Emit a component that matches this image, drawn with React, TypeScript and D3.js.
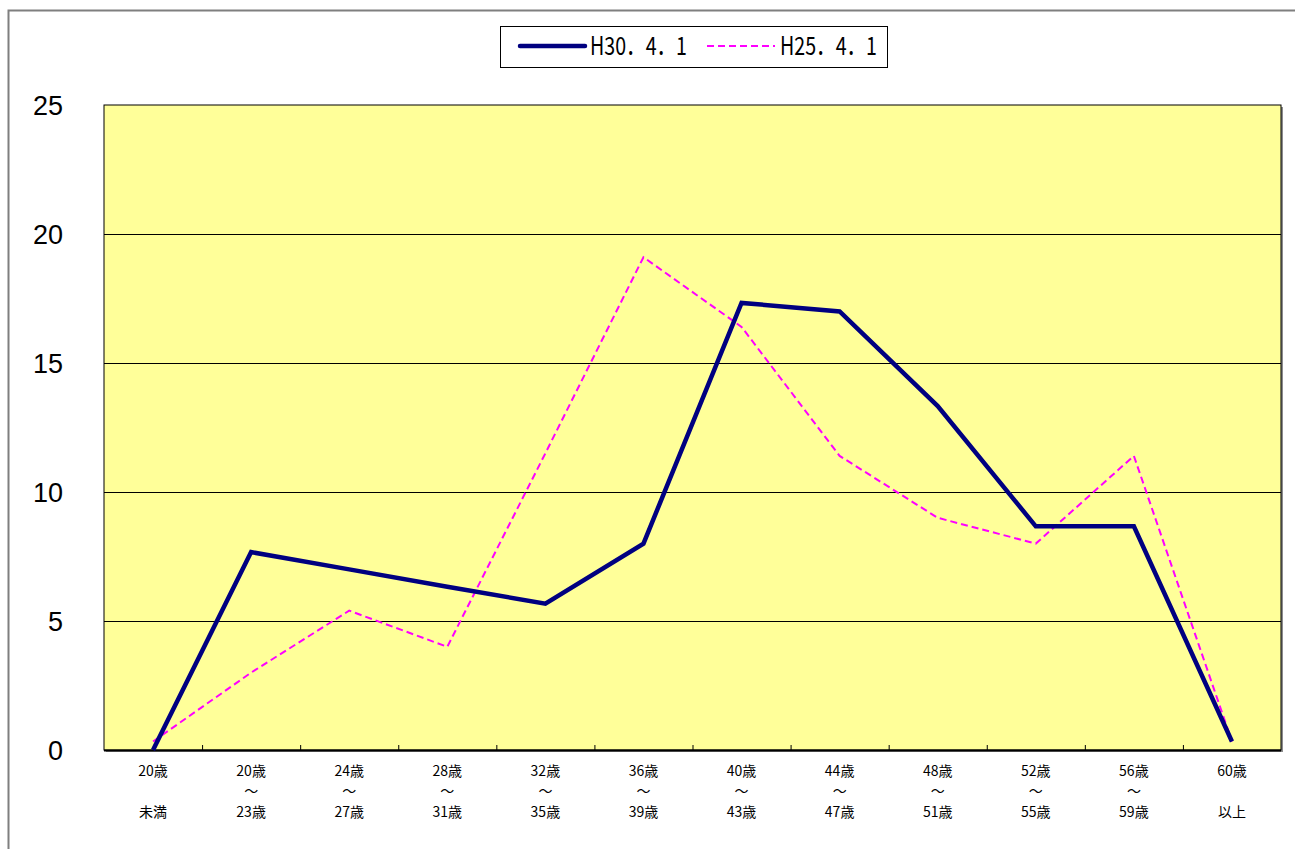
import * as d3 from "d3";

const categories = [
  ["20歳", "", "未満"],
  ["20歳", "～", "23歳"],
  ["24歳", "～", "27歳"],
  ["28歳", "～", "31歳"],
  ["32歳", "～", "35歳"],
  ["36歳", "～", "39歳"],
  ["40歳", "～", "43歳"],
  ["44歳", "～", "47歳"],
  ["48歳", "～", "51歳"],
  ["52歳", "～", "55歳"],
  ["56歳", "～", "59歳"],
  ["60歳", "", "以上"],
];
const h30 = [0, 7.67, 7.0, 6.33, 5.67, 8.0, 17.33, 17.0, 13.33, 8.67, 8.67, 0.33];
const h25 = [0.33, 3.0, 5.4, 4.0, 11.5, 19.1, 16.4, 11.4, 9.0, 8.0, 11.4, 0.33];
const yTicks = [0, 5, 10, 15, 20, 25];
const seriesNames = ["H30．4．1", "H25．4．1"];

const W = 1295;
const H = 849;
const plot = { left: 104, top: 105, right: 1281, bottom: 750 };
const font = "'Noto Sans CJK JP', 'Noto Sans', sans-serif";
const numFont = "'Liberation Sans', Arial, sans-serif";

export default function App() {
  const keys = categories.map((_, i) => String(i));
  const xBand = d3.scaleBand().domain(keys).range([plot.left, plot.right]);
  const x = (i: number) => xBand(String(i))! + xBand.bandwidth() / 2;
  const y = d3.scaleLinear().domain([0, 25]).range([plot.bottom, plot.top]);
  const line = d3
    .line<number>()
    .x((_, i) => x(i))
    .y((d) => y(d));

  return (
    <div style={{ position: "fixed", left: 0, top: 0 }}>
      <svg width={W} height={H} style={{ display: "block", background: "#fff" }}>
        {/* outer chart frame */}
        <path d={`M8.5,${H} V10.5 H${W}`} fill="none" stroke="#7f7f7f" strokeWidth={2} />

        {/* plot area with shadow */}
        <rect
          x={plot.left + 2}
          y={plot.top + 2}
          width={plot.right - plot.left}
          height={plot.bottom - plot.top}
          fill="#8c8c8c"
        />
        <rect
          x={plot.left}
          y={plot.top}
          width={plot.right - plot.left}
          height={plot.bottom - plot.top}
          fill="#ffff99"
          stroke="#000"
          strokeWidth={1}
        />

        {/* gridlines */}
        {yTicks.slice(1, -1).map((t) => (
          <line
            key={t}
            x1={plot.left}
            x2={plot.right}
            y1={Math.round(y(t)) + 0.5}
            y2={Math.round(y(t)) + 0.5}
            stroke="#000"
            strokeWidth={1}
          />
        ))}

        {/* y labels */}
        {yTicks.map((t) => (
          <text
            key={t}
            x={63}
            y={y(t)}
            dy="0.36em"
            textAnchor="end"
            fontFamily={numFont}
            fontSize={27}
            fill="#000"
          >
            {t}
          </text>
        ))}

        {/* x axis + ticks */}
        <line
          x1={plot.left}
          x2={plot.right}
          y1={plot.bottom + 0.5}
          y2={plot.bottom + 0.5}
          stroke="#000"
          strokeWidth={2}
        />
        {keys.slice(1).map((k) => (
          <line
            key={k}
            x1={xBand(k)! + 0.5}
            x2={xBand(k)! + 0.5}
            y1={plot.bottom}
            y2={plot.bottom - 5}
            stroke="#000"
          />
        ))}
        {categories.map((c, i) => (
          <text
            key={i}
            x={x(i)}
            textAnchor="middle"
            fontFamily={font}
            fontSize={14}
            fill="#000"
          >
            <tspan x={x(i)} y={776}>
              {c[0]}
            </tspan>
            <tspan x={x(i)} y={796}>
              {c[1]}
            </tspan>
            <tspan x={x(i)} y={817}>
              {c[2]}
            </tspan>
          </text>
        ))}

        {/* series */}
        <path
          d={line(h25)!}
          fill="none"
          stroke="#ff00ff"
          strokeWidth={2}
          strokeDasharray="7,4"
        />
        <path
          d={line(h30)!}
          fill="none"
          stroke="#000080"
          strokeWidth={4.5}
          strokeLinejoin="miter"
        />

        {/* legend */}
        <rect x={500.5} y={26.5} width={387} height={41} fill="#fff" stroke="#000" strokeWidth={1} />
        <line x1={520} x2={585} y1={46} y2={46} stroke="#000080" strokeWidth={4.5} strokeLinecap="round" />
        <text
          x={590}
          y={46}
          dy="0.36em"
          fontFamily={font}
          fontSize={25}
          fill="#000"
          textLength={97}
          lengthAdjust="spacingAndGlyphs"
        >
          {seriesNames[0]}
        </text>
        <line
          x1={707}
          x2={775}
          y1={46}
          y2={46}
          stroke="#ff00ff"
          strokeWidth={2}
          strokeDasharray="7,4"
        />
        <text
          x={780}
          y={46}
          dy="0.36em"
          fontFamily={font}
          fontSize={25}
          fill="#000"
          textLength={97}
          lengthAdjust="spacingAndGlyphs"
        >
          {seriesNames[1]}
        </text>
      </svg>
    </div>
  );
}
